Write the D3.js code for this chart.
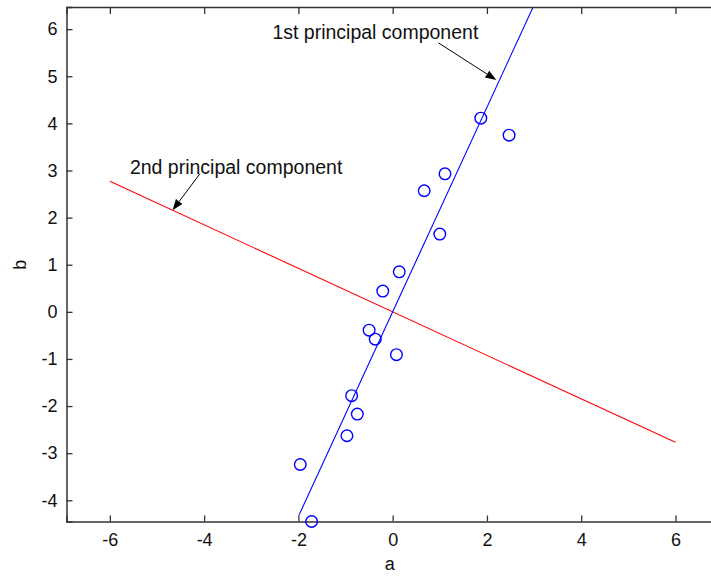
<!DOCTYPE html>
<html>
<head>
<meta charset="utf-8">
<script src="https://cdn.jsdelivr.net/npm/d3@7"></script>
<style>
  html, body { margin: 0; padding: 0; background: #fff; }
  svg { display: block; font-family: "Liberation Sans", Arial, Helvetica, sans-serif; }
</style>
</head>
<body>
<svg id="chart" width="711" height="576"></svg>
<script>
// Observations (a, b)
const pointsA = [1.87, 2.47, 1.11, 0.67, 1.00, 0.14, -0.21, -0.50, -0.37, 0.08, -0.87, -0.75, -0.97, -1.96, -1.72];
const pointsB = [4.11, 3.75, 2.93, 2.57, 1.65, 0.85, 0.44, -0.39, -0.58, -0.91, -1.78, -2.17, -2.63, -3.24, -4.45];

// Principal component directions, as segment endpoints [a, b]
const pc1Line = [[-1.99, -4.32], [3.10, 6.73]];
const pc2Line = [[-6.00, 2.77], [6.00, -2.77]];

// Annotation arrows: [text anchor point, arrow tip] in data units
const pc1Label = "1st principal component";
const pc1Arrow = [[0.97, 5.71], [2.20, 4.92]];
const pc2Label = "2nd principal component";
const pc2Arrow = [[-4.09, 2.93], [-4.67, 2.155]];

// Axis ticks and limits
const xTicks = [-6, -4, -2, 0, 2, 4, 6];
const yTicks = [-4, -3, -2, -1, 0, 1, 2, 3, 4, 5, 6];
const xLimits = [-6.92, 7.0];
const yLimits = [-4.45, 6.47];
const xLabel = "a";
const yLabel = "b";

const svg = d3.select("#chart");
const plot = { left: 66.5, right: 722.6, top: 7, bottom: 521.5 };

const x = d3.scaleLinear().domain(xLimits).range([plot.left, plot.right]);
const y = d3.scaleLinear().domain(yLimits).range([plot.bottom, plot.top]);

svg.append("defs").append("clipPath").attr("id", "plotClip")
  .append("rect")
  .attr("x", plot.left).attr("y", plot.top)
  .attr("width", plot.right - plot.left).attr("height", plot.bottom - plot.top);

const axisColor = "#333";

// Lines (clipped to the axes box)
const line = d3.line().x(d => x(d[0])).y(d => y(d[1]));
const lines = svg.append("g").attr("clip-path", "url(#plotClip)");
lines.append("path").attr("d", line(pc2Line))
  .attr("fill", "none").attr("stroke", "#ff0000").attr("stroke-width", 1.1);
lines.append("path").attr("d", line(pc1Line))
  .attr("fill", "none").attr("stroke", "#0000ff").attr("stroke-width", 1.1);

// Axes (ticks drawn inward, MATLAB style)
const xAxisBottom = d3.axisBottom(x).tickValues(xTicks).tickSize(-6).tickPadding(12).tickFormat(d3.format("d"));
const xAxisTop = d3.axisTop(x).tickValues(xTicks).tickSize(-7).tickFormat("");
const yAxisLeft = d3.axisLeft(y).tickValues(yTicks).tickSize(-6).tickPadding(9).tickFormat(d3.format("d"));

function styleAxis(g) {
  g.select(".domain").attr("stroke", axisColor).attr("stroke-width", 1.5);
  g.selectAll(".tick line").attr("stroke", axisColor).attr("stroke-width", 1.3);
  g.selectAll(".tick text").attr("fill", "#111").attr("font-size", 18)
    .attr("font-family", "'Liberation Sans', Arial, sans-serif");
}

svg.append("g").attr("transform", `translate(0,${plot.bottom})`).call(xAxisBottom).call(styleAxis)
  .selectAll(".tick text").text(d => d < 0 ? "-" + Math.abs(d) : d);
svg.append("g").attr("transform", `translate(0,${plot.top})`).call(xAxisTop).call(styleAxis);
svg.append("g").attr("transform", `translate(${plot.left},0)`).call(yAxisLeft).call(styleAxis)
  .selectAll(".tick text").text(d => d < 0 ? "-" + Math.abs(d) : d);

// Observations as open circles
svg.append("g").selectAll("circle")
  .data(pointsA.map((a, i) => [a, pointsB[i]]))
  .join("circle")
  .attr("cx", d => x(d[0])).attr("cy", d => y(d[1]))
  .attr("r", 5.8)
  .attr("fill", "none").attr("stroke", "#0000ff").attr("stroke-width", 1.4);

// Annotation arrows
function arrow(from, to) {
  const x0 = x(from[0]), y0 = y(from[1]), x1 = x(to[0]), y1 = y(to[1]);
  const ang = Math.atan2(y1 - y0, x1 - x0);
  const len = 11, half = 4;
  const bx = x1 - len * Math.cos(ang), by = y1 - len * Math.sin(ang);
  svg.append("line").attr("x1", x0).attr("y1", y0).attr("x2", bx).attr("y2", by)
    .attr("stroke", "#000").attr("stroke-width", 1);
  const pts = [
    [x1, y1],
    [bx + half * Math.sin(ang), by - half * Math.cos(ang)],
    [bx - half * Math.sin(ang), by + half * Math.cos(ang)]
  ];
  svg.append("polygon").attr("points", pts.map(p => p.join(",")).join(" ")).attr("fill", "#000");
}
arrow(pc1Arrow[0], pc1Arrow[1]);
arrow(pc2Arrow[0], pc2Arrow[1]);

svg.append("text").attr("x", x(pc1Arrow[0][0]) - 166).attr("y", y(pc1Arrow[0][1]) - 4)
  .attr("font-size", 19.5).attr("fill", "#111").text(pc1Label);
svg.append("text").attr("x", x(pc2Arrow[0][0]) - 70).attr("y", y(pc2Arrow[0][1]))
  .attr("font-size", 19.5).attr("fill", "#111").text(pc2Label);

// Axis titles
svg.append("text").attr("x", x(0) - 3).attr("y", 570)
  .attr("text-anchor", "middle").attr("font-size", 18).attr("fill", "#111").text(xLabel);
svg.append("text").attr("transform", `translate(26,${y(1)}) rotate(-90)`)
  .attr("text-anchor", "middle").attr("font-size", 18).attr("fill", "#111").text(yLabel);
</script>
</body>
</html>
